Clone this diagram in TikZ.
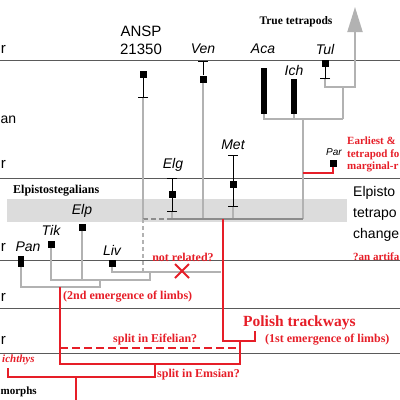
\documentclass[tikz,border=0pt]{standalone}
\usepackage{fontspec}
\setmainfont{Liberation Serif}
\setsansfont{Liberation Sans}
\usepackage{xcolor}
\definecolor{redd}{RGB}{230,30,40}
\definecolor{treegray}{RGB}{178,178,178}
\definecolor{darkgray}{RGB}{140,140,140}
\definecolor{bandgray}{RGB}{220,220,220}
\definecolor{rulegray}{RGB}{90,90,90}
\usetikzlibrary{arrows.meta,shapes.misc}

\begin{document}
\begin{tikzpicture}[x=1pt,y=-1pt]
        \tikzstyle{branch}=[draw=treegray,line width=2pt]
        \tikzstyle{branchdark}=[draw=darkgray,line width=2pt]
        \tikzstyle{limbline}=[draw=redd,line width=2.2pt]
        \tikzstyle{errbar}=[draw=black,line width=1pt]
        \tikzstyle{specimen}=[fill=black,inner sep=0pt,minimum size=7pt]
        \tikzstyle{taxon}=[font=\sffamily\itshape\fontsize{14}{16}\selectfont,inner sep=0pt]
        \tikzstyle{agelabel}=[font=\sffamily\fontsize{15}{18}\selectfont,inner sep=0pt,anchor=east]
        \tikzstyle{rednote}=[font=\bfseries\fontsize{12}{13}\selectfont,text=redd,inner sep=0pt]
        \tikzstyle{ageline}=[draw=rulegray,line width=0.6pt]

        \clip (0,0) rectangle (400,400);
        \useasboundingbox (0,0) rectangle (400,400);

        % band and time lines
        \fill[bandgray] (7,199) rectangle (347,222);
        \foreach \y in {60,178,260,308,353}
            \draw[ageline] (0,\y) -- (400,\y);

        % specimens
        \node[specimen] (ansp) at (143,74)  {};
        \node[specimen] (ven)  at (203,79)  {};
        \node[specimen] (tul)  at (325,63)  {};
        \node[specimen] (elg)  at (172,194) {};
        \node[specimen] (met)  at (233,184) {};
        \node[specimen] (par)  at (333,163) {};
        \node[specimen] (tik)  at (51,244)  {};
        \node[specimen] (elp)  at (82,227)  {};
        \node[specimen] (liv)  at (112,263) {};
        \node[specimen,minimum width=6pt,minimum height=11pt] (pan) at (21,261) {};
        \node[fill=black,inner sep=0pt,minimum width=6pt,minimum height=46pt] (aca) at (264,91) {};
        \node[fill=black,inner sep=0pt,minimum width=6pt,minimum height=35pt] (ich) at (294,96.5) {};

        % forks
        \coordinate (ansptick)  at (143,98);
        \coordinate (anspfork)  at (143,219);
        \coordinate (anspend)   at (143,271);
        \coordinate (elgtop)    at (172,178);
        \coordinate (elglow)    at (172,212);
        \coordinate (elgfork)   at (172,219);
        \coordinate (ventick)   at (203,61);
        \coordinate (venfork)   at (203,219);
        \coordinate (mettop)    at (233,155);
        \coordinate (metlow)    at (233,207);
        \coordinate (metfork)   at (233,219);
        \coordinate (trackfork) at (223,219);
        \coordinate (topfork)   at (303,219);
        \coordinate (acafork)   at (303,119);
        \coordinate (tulfork)   at (343,119);
        \coordinate (tultick)   at (325,79);
        \coordinate (arrowbase) at (355,87);
        \coordinate (arrowtip)  at (355,7);
        \coordinate (parfork)   at (303,173);
        \coordinate (livend)    at (221,272);
        \coordinate (tikfork)   at (150,280);
        \coordinate (tikup)     at (150,272);
        \coordinate (panfork)   at (100,287);
        \coordinate (panup)     at (100,280);

        % error bars
        \draw[errbar,-{Bar[width=10pt]}] (ansp) -- (ansptick);
        \draw[errbar,-{Bar[width=10pt]}] (ven) -- (ventick);
        \draw[errbar,-{Bar[width=10pt]}] (tul) -- (tultick);
        \draw[errbar,{Bar[width=10pt]}-{Bar[width=10pt]}] (elgtop) -- (elglow);
        \draw[errbar,{Bar[width=10pt]}-{Bar[width=10pt]}] (mettop) -- (metlow);
        \node[specimen] at (elg) {};
        \node[specimen] at (met) {};

        % grey tree
        \draw[branch] (aca) |- (tulfork);
        \draw[branch] (ich) -- (ich |- tulfork);
        \draw[branch] (acafork) -- (topfork);
        \draw[branch] (tulfork) -- (tulfork |- arrowbase);
        \draw[branch,-{Triangle[length=25pt,width=15pt]}] (tultick) |- (arrowbase) -- (arrowtip);
        \draw[branch] (ven) -- (venfork);
        \draw[branch] (metlow) -- (metfork);
        \draw[branch] (elglow) -- (elgfork);
        \draw[branch] (ansptick) -- (anspfork);
        \draw[branchdark] (elgfork) -- (topfork);
        \draw[branchdark,dash pattern=on 5pt off 3pt] (anspfork) -- (elgfork);
        \draw[branch,dash pattern=on 4pt off 3pt] (anspfork) -- (anspend);
        \draw[branch] (liv) |- (livend);
        \draw[branch] (tik) |- (tikfork) -- (tikup);
        \draw[branch] (elp) -- (elp |- tikfork);
        \draw[branch] (pan) |- (panfork) -- (panup);

        % red lineages
        \coordinate (trackhook) at (255,341);
        \coordinate (trackend)  at (255,331);
        \coordinate (panred)    at (60,287);
        \coordinate (emsfork)   at (240,364);
        \coordinate (eifup)     at (240,341);
        \coordinate (eifstart)  at (60,348);
        \coordinate (eifend)    at (240,348);
        \coordinate (ichend)    at (8,368);
        \coordinate (rootfork)  at (155,377);
        \coordinate (rootup)    at (155,364);
        \coordinate (root)      at (76,377);
        \coordinate (rootend)   at (76,402);
        \draw[limbline] (par) |- (parfork);
        \draw[limbline] (trackfork) |- (trackhook) -- (trackend);
        \draw[limbline] (panred) |- (emsfork) -- (eifup);
        \draw[limbline,dash pattern=on 8pt off 4pt] (eifstart) -- (eifend);
        \draw[limbline] (ichend) |- (rootfork) -- (rootup);
        \draw[limbline] (root) -- (rootend);
        \node[cross out,draw=redd,line width=2pt,minimum size=12pt,inner sep=0pt] (cross) at (182,271) {};

        % taxa
        \node[font=\sffamily\fontsize{15}{18}\selectfont,align=center,inner sep=0pt] (ansplab) at (141,40) {ANSP\\21350};
        \node[taxon] (venlab) at (203,49) {Ven};
        \node[taxon] (acalab) at (263,49) {Aca};
        \node[taxon] (tullab) at (325,49) {Tul};
        \node[taxon] (ichlab) at (294,70) {Ich};
        \node[taxon] (metlab) at (233,145) {Met};
        \node[taxon] (elglab) at (173,165) {Elg};
        \node[taxon] (elplab) at (82,211) {Elp};
        \node[taxon] (tiklab) at (51,230) {Tik};
        \node[taxon] (panlab) at (28,247) {Pan};
        \node[taxon] (livlab) at (112,250) {Liv};
        \node[taxon,font=\sffamily\itshape\fontsize{10}{12}\selectfont] (parlab) at (334,152) {Par};
        \node[font=\bfseries\fontsize{11.5}{13}\selectfont,inner sep=0pt] (truelab) at (296,22) {True tetrapods};
        \node[font=\bfseries\fontsize{12}{13}\selectfont,inner sep=0pt,anchor=west] (elpilab) at (13,191) {Elpistostegalians};
        \node[font=\bfseries\fontsize{11}{13}\selectfont,inner sep=0pt,anchor=west] (morphlab) at (0.5,392) {morphs};

        % stages
        \node[agelabel] at (6,49)  {r};
        \node[agelabel,anchor=west,font=\sffamily\fontsize{14}{16}\selectfont] at (0.5,120) {an};
        \node[agelabel] at (6,164) {r};
        \node[agelabel] at (6,247) {r};
        \node[agelabel] at (6,297) {r};
        \node[agelabel] at (6,340) {r};

        % notes
        \node[font=\sffamily\fontsize{14}{21}\selectfont,align=left,inner sep=0pt,anchor=north west] (changelab) at (353,186) {Elpisto\\tetrapo\\change};
        \node[rednote,anchor=west,font=\bfseries\fontsize{11}{12}\selectfont] (artlab) at (353,257) {?an artifa};
        \node[rednote,align=left,anchor=north west,font=\bfseries\fontsize{11}{12.5}\selectfont] (earlylab) at (347,137) {Earliest \&\\tetrapod fo\\marginal-r};
        \node[rednote] (notrel) at (183,257) {not related?};
        \node[rednote,anchor=west] (secondlab) at (63,297) {(2nd emergence of limbs)};
        \node[rednote,anchor=west] (eiflab) at (113,340) {split in Eifelian?};
        \node[rednote,anchor=west,font=\bfseries\fontsize{15.5}{17}\selectfont] (polishlab) at (243,323) {Polish trackways};
        \node[rednote,anchor=west] (firstlab) at (265,340) {(1st emergence of limbs)};
        \node[rednote,anchor=west] (emslab) at (157,375) {split in Emsian?};
        \node[rednote,anchor=west,font=\bfseries\itshape\fontsize{11}{12}\selectfont] (ichlab2) at (2,360) {ichthys};
\end{tikzpicture}
\end{document}
